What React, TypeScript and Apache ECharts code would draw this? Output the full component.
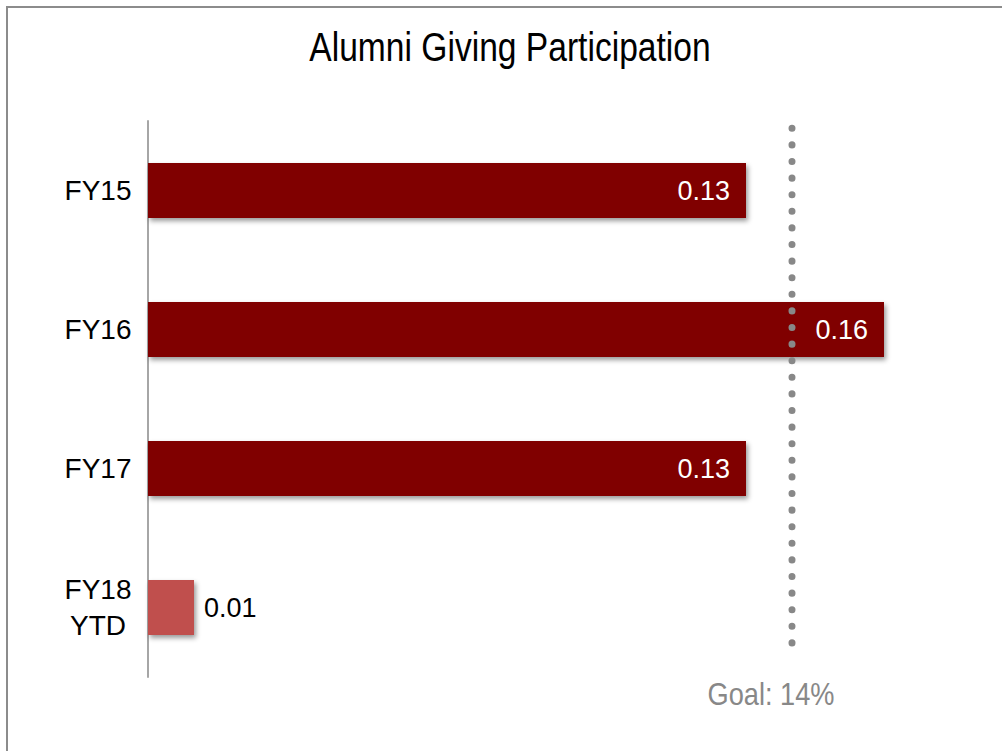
import React, { useEffect, useRef } from "react";
import * as echarts from "echarts";

const categories = ["FY15", "FY16", "FY17", "FY18\nYTD"];
const values = [0.13, 0.16, 0.13, 0.01];
const barColors = ["#800000", "#800000", "#800000", "#C0504D"];
const labelInside = [true, true, true, false];
const goalValue = 0.14;
const goalSpan = [0.013, 0.948];
const titleText = "Alumni Giving Participation";
const goalText = "Goal: 14%";

const FONT = "'Liberation Sans Narrow', 'Arial Narrow', 'Liberation Sans', Arial, sans-serif";

export default function App() {
  const ref = useRef<HTMLDivElement>(null);
  useEffect(() => {
    if (!ref.current) return;
    const chart = echarts.init(ref.current, undefined, { renderer: "svg" });
    chart.setOption({
      animation: false,
      backgroundColor: "#ffffff",
      grid: { left: 148, right: 26, top: 121, bottom: 74 },
      xAxis: [{ type: "value", min: 0, max: 0.18, show: false }],
      yAxis: [
        {
          type: "category",
          data: categories,
          inverse: true,
          axisLine: { show: true, lineStyle: { color: "#a6a6a6", width: 2 } },
          axisTick: { show: false },
          axisLabel: {
            align: "center",
            margin: 50,
            fontFamily: FONT,
            fontSize: 28,
            lineHeight: 36,
            color: "#000",
          },
        },
        { type: "value", min: 0, max: 1, inverse: true, show: false },
      ],
      series: [
        {
          type: "bar",
          yAxisIndex: 0,
          barWidth: 55,
          data: values.map((v, i) => ({
            value: v,
            itemStyle: {
              color: barColors[i],
              shadowColor: "rgba(0,0,0,0.4)",
              shadowBlur: 5,
              shadowOffsetX: 2,
              shadowOffsetY: 3,
            },
            label: labelInside[i]
              ? { position: "insideRight", distance: 16, color: "#fff" }
              : { position: "right", distance: 10, color: "#000" },
          })),
          label: {
            show: true,
            fontFamily: FONT,
            fontSize: 27,
            formatter: (p: any) => p.value.toFixed(2),
          },
          z: 2,
        },
        {
          type: "line",
          yAxisIndex: 1,
          data: goalSpan.map((y) => [goalValue, y]),
          symbol: "none",
          lineStyle: { color: "#888888", width: 7, type: [0.1, 16.5], cap: "round" },
          z: 5,
        },
      ],
      graphic: [
        {
          type: "rect",
          shape: { x: 7, y: 7, width: 1200, height: 1000 },
          style: { fill: "none", stroke: "#8c8c8c", lineWidth: 2 },
          silent: true,
        },
        {
          type: "text",
          x: 510,
          y: 47,
          scaleX: 0.84,
          style: {
            text: titleText,
            fontFamily: FONT,
            fontSize: 40,
            fill: "#000000",
            align: "center",
            verticalAlign: "middle",
          },
        },
        {
          type: "text",
          x: 771,
          y: 694,
          scaleX: 0.85,
          style: {
            text: goalText,
            fontFamily: FONT,
            fontSize: 32,
            fill: "#888888",
            align: "center",
            verticalAlign: "middle",
          },
        },
      ],
    });
    return () => chart.dispose();
  }, []);
  return (
    <div
      ref={ref}
      style={{ position: "absolute", left: 0, top: 0, width: 1002, height: 751 }}
    />
  );
}
